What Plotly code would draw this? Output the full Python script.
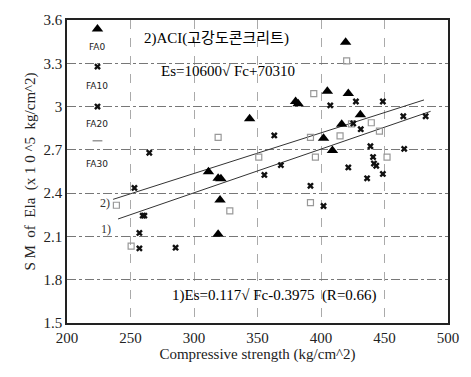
import plotly.graph_objects as go

# ---- data ----
fa0_x = [419.4, 405, 421.5, 380, 382, 343.8, 431, 416.3, 402, 409, 311.4, 319, 321.2, 320.5, 319]
fa0_y = [3.446, 3.107, 3.09, 3.035, 3.02, 2.915, 2.944, 2.877, 2.78, 2.696, 2.549, 2.503, 2.50, 2.352, 2.115]

fa10_x = [427.5, 448.7, 407.3, 425.4, 431.3, 464.8, 482.4, 363.2, 438.9, 465.5, 264.8, 441.0, 441.7]
fa10_y = [3.035, 3.035, 3.008, 2.883, 2.843, 2.933, 2.933, 2.80, 2.725, 2.707, 2.68, 2.65, 2.605]

fa20_x = [443.5, 368.4, 421.5, 355.4, 448.7, 436.3, 253.1, 391.7, 402.0, 260.9, 259.6, 257.0, 257.0, 285.5]
fa20_y = [2.59, 2.594, 2.578, 2.526, 2.533, 2.503, 2.436, 2.451, 2.311, 2.244, 2.244, 2.124, 2.017, 2.022]

fa30_x = [420.2, 394.3, 415.0, 424.0, 439.6, 446.0, 319.0, 391.7, 351.0, 395.6, 452.0, 391.7, 328.2, 238.9, 250.5]
fa30_y = [3.317, 3.09, 2.797, 2.88, 2.888, 2.83, 2.786, 2.786, 2.65, 2.65, 2.65, 2.334, 2.277, 2.316, 2.033]

line2_x = [236.3, 481.1]   # 2) ACI
line2_y = [2.357, 3.046]
line1_x = [240.2, 486.3]   # 1) regression
line1_y = [2.221, 2.967]

legend_labels = ["FA0", "FA10", "FA20", "FA30"]
legend_marker_y = [3.537, 3.277, 3.0, 2.763]
legend_label_y = [3.41, 3.14, 2.876, 2.605]
legend_x = 224

x_ticks = [200, 250, 300, 350, 400, 450, 500]
y_ticks = [1.5, 1.8, 2.1, 2.4, 2.7, 3.0, 3.3, 3.6]
y_ticktext = ["1.5", "1.8", "2.1", "2.4", "2.7", "3", "3.3", "3.6"]

SERIF = "Liberation Serif, DejaVu Serif, Noto Sans CJK KR, serif"
KSERIF = "Liberation Serif, Noto Sans CJK KR, serif"

fig = go.Figure()

fig.add_trace(go.Scatter(x=line2_x, y=line2_y, mode="lines",
                         line=dict(color="#333", width=1), hoverinfo="skip"))
fig.add_trace(go.Scatter(x=line1_x, y=line1_y, mode="lines",
                         line=dict(color="#333", width=1), hoverinfo="skip"))

fig.add_trace(go.Scatter(x=fa30_x, y=fa30_y, mode="markers", name="FA30",
                         marker=dict(symbol="square-open", size=6, color="#999",
                                     line=dict(width=1.2, color="#999"))))
fig.add_trace(go.Scatter(x=fa10_x, y=fa10_y, mode="markers", name="FA10",
                         marker=dict(symbol="x", size=6, color="#111",
                                     line=dict(width=0))))
fig.add_trace(go.Scatter(x=fa20_x, y=fa20_y, mode="markers", name="FA20",
                         marker=dict(symbol="x", size=6, color="#111",
                                     line=dict(width=0))))
fig.add_trace(go.Scatter(x=fa0_x, y=fa0_y, mode="markers", name="FA0",
                         marker=dict(symbol="triangle-up", size=10, color="#000")))

# pseudo legend column inside the plot
leg_symbols = ["triangle-up", "x", "x", "line-ew"]
leg_sizes = [10, 6, 6, 7]
leg_colors = ["#000", "#111", "#111", "#999"]
leg_lw = [0, 0, 0, 1.5]
for lab, my, sym, sz, col, lw in zip(legend_labels, legend_marker_y, leg_symbols,
                                     leg_sizes, leg_colors, leg_lw):
    fig.add_trace(go.Scatter(x=[legend_x], y=[my], mode="markers",
                             marker=dict(symbol=sym, size=sz, color=col,
                                         line=dict(width=lw, color=col))))
for lab, ly in zip(legend_labels, legend_label_y):
    fig.add_annotation(x=legend_x, y=ly, text=lab, showarrow=False,
                       font=dict(family="DejaVu Sans, sans-serif", size=9, color="#222"))

fig.add_annotation(x=318, y=3.475, text="2)ACI(고강도콘크리트)", showarrow=False,
                   font=dict(family=KSERIF, size=15, color="#000"))
fig.add_annotation(x=327, y=3.25, text="Es=10600√ Fc+70310", showarrow=False,
                   font=dict(family=SERIF, size=15, color="#000"))
fig.add_annotation(x=363, y=1.69, text="1)Es=0.117√ Fc-0.3975  (R=0.66)", showarrow=False,
                   font=dict(family=SERIF, size=15, color="#000"))
fig.add_annotation(x=230, y=2.33, text="2)", showarrow=False,
                   font=dict(family=SERIF, size=12, color="#333"))
fig.add_annotation(x=231, y=2.15, text="1)", showarrow=False,
                   font=dict(family=SERIF, size=12, color="#333"))

fig.update_layout(
    width=471, height=377,
    margin=dict(l=67, r=19, t=13, b=54),
    paper_bgcolor="white", plot_bgcolor="white",
    showlegend=False,
    font=dict(family=SERIF, size=15, color="#222"),
)
fig.update_xaxes(
    range=[200, 500], tickvals=x_ticks, ticks="", showline=True, linecolor="#222",
    linewidth=1.5, mirror=True, showgrid=True, gridcolor="#aaa", griddash="dash",
    gridwidth=1, zeroline=False, tickfont=dict(family=SERIF, size=15, color="#222"),
    title=dict(text="Compressive strength (kg/cm^2)", standoff=4,
               font=dict(family=SERIF, size=15, color="#222")),
)
fig.update_yaxes(
    range=[1.5, 3.6], tickvals=y_ticks, ticktext=y_ticktext, ticks="", showline=True,
    linecolor="#222", linewidth=1.5, mirror=True, showgrid=True, gridcolor="#777",
    griddash="dashdot", gridwidth=1, zeroline=False,
    tickfont=dict(family=SERIF, size=15, color="#222"),
    title=dict(text="S M  of  Ela  (x 1 0 ^5  kg/cm^2)", standoff=4,
               font=dict(family=SERIF, size=15, color="#222")),
)

fig.write_html("out.html")
